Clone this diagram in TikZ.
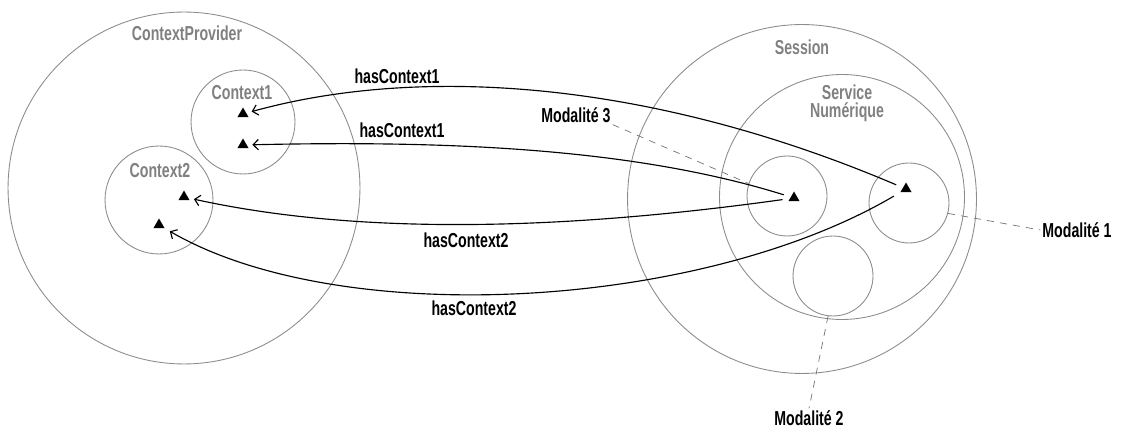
\documentclass[tikz,border=0pt]{standalone}
\usepackage{fontspec}
\setsansfont[FakeStretch=0.7]{Liberation Sans}
\usetikzlibrary{shapes.geometric,arrows.meta,positioning}

\begin{document}
\begin{tikzpicture}[x=0.02cm, y=-0.02cm,
    ring/.style={draw=black!45, line width=0.5pt, circle, inner sep=0pt},
    title/.style={text=black!50, font=\sffamily\bfseries\fontsize{11.5}{10}\selectfont, inner sep=1pt, align=center},
    tag/.style={font=\sffamily\bfseries\fontsize{11.5}{10}\selectfont, inner sep=1pt},
    marker/.style={regular polygon, regular polygon sides=3, fill=black, inner sep=0pt, minimum size=0.26cm},
    link/.style={line width=0.65pt, -{Straight Barb[length=3pt,width=6pt]}, shorten <=4pt, shorten >=3pt},
    leader/.style={draw=black!55, dash pattern=on 4pt off 3.5pt, line width=0.4pt}]
    \useasboundingbox (0,0) rectangle (1125,428);

    % Context provider
    \node[ring, minimum size=7.04cm] (provider) at (184,188) {};
    \node[title] (lprovider) at (187,33) {ContextProvider};
    \node[ring, minimum size=2.08cm] (ctx1) at (243,122) {};
    \node[title] (lctx1) at (242,93) {Context1};
    \node[ring, minimum size=2.16cm] (ctx2) at (159,200) {};
    \node[title] (lctx2) at (160,171) {Context2};
    \node[marker] (c1a) at (243,114) {};
    \node[marker] (c1b) at (243,145) {};
    \node[marker] (c2a) at (184,197) {};
    \node[marker] (c2b) at (159,225) {};

    % Session
    \node[ring, minimum size=6.98cm] (session) at (802,199) {};
    \node[title] (lsession) at (802,47) {Session};
    \node[ring, minimum size=4.9cm] (service) at (842,197) {};
    \node[title] (lservice) at (847,103) {Service\\Numérique};
    \node[ring, minimum size=1.6cm] (mod3) at (787,196) {};
    \node[ring, minimum size=1.6cm] (mod1) at (909,203) {};
    \node[ring, minimum size=1.6cm] (mod2) at (833,276) {};
    \node[marker] (t3) at (794,198) {};
    \node[marker] (t1) at (906,189) {};

    % Modalities
    \node[tag] (lm3) at (576,115) {Modalité 3};
    \node[tag] (lm1) at (1077,230) {Modalité 1};
    \node[tag] (lm2) at (809,418) {Modalité 2};
    \draw[leader] (lm3.south east) -- (mod3.162);
    \draw[leader] (mod1.-15) -- (lm1.west);
    \draw[leader] (mod2.-97) -- (lm2.north);

    % Links
    \draw[link] (t1) .. controls (650,80) and (420,65) .. (c1a);
    \draw[link] (t3) .. controls (640,150) and (460,140) .. (c1b);
    \draw[link] (t3) .. controls (600,225) and (380,240) .. (c2a);
    \draw[link] (t1) .. controls (700,310) and (340,330) .. (c2b);
    \node[tag] (l1) at (397,76) {hasContext1};
    \node[tag] (l2) at (402,130) {hasContext1};
    \node[tag] (l3) at (466,240) {hasContext2};
    \node[tag] (l4) at (474,308) {hasContext2};
\end{tikzpicture}
\end{document}
